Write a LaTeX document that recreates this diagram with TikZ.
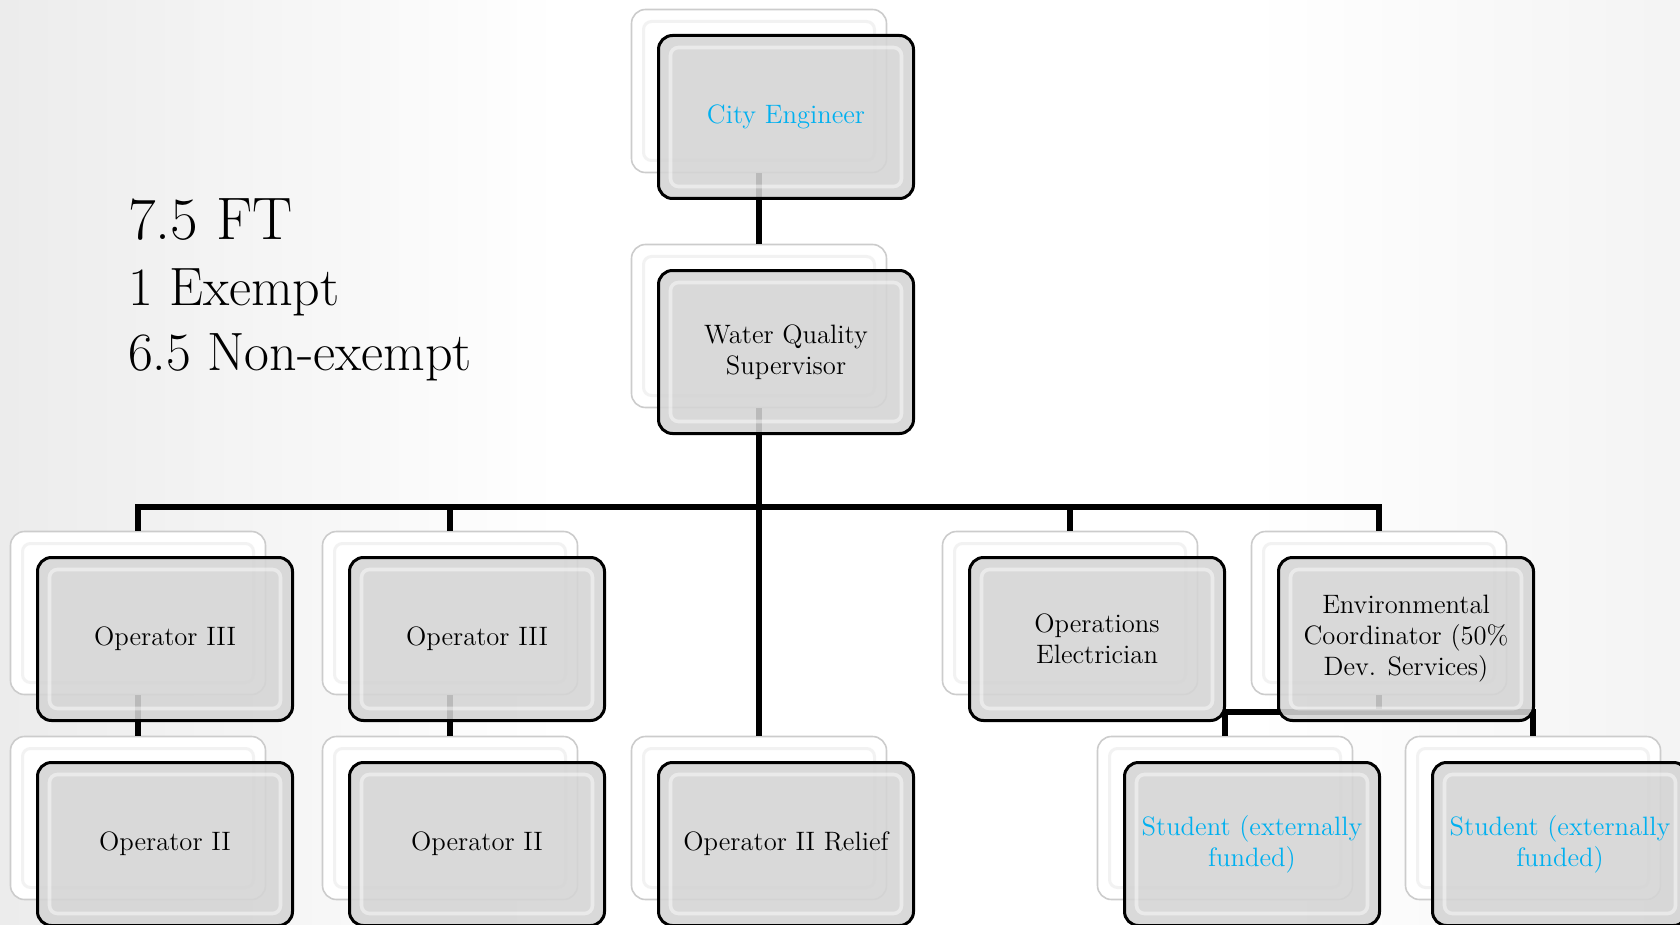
\documentclass[tikz,border=0pt]{standalone}
\usetikzlibrary{positioning}
\definecolor{titleblue}{RGB}{0,176,240}
\definecolor{boxgray}{RGB}{212,212,212}
\newcommand\boxfont{\fontsize{13.3pt}{15.5pt}\selectfont}
\tikzstyle{card}=[rounded corners=7pt, minimum width=127.5pt, minimum height=81.5pt, inner sep=0pt, align=center]
\tikzstyle{backbox}=[card, draw=gray!40, line width=.8pt, fill=white,
  path picture={\draw[gray!10, line width=1.5pt, rounded corners=4pt]
    ([shift={(6pt,-6pt)}]path picture bounding box.north west) rectangle
    ([shift={(-6pt,6pt)}]path picture bounding box.south east);}]
\tikzstyle{frontbox}=[card, draw=black, line width=1.5pt, fill=boxgray, fill opacity=.88, text opacity=1,
  path picture={\draw[white, line width=1.8pt, opacity=.45, rounded corners=4pt]
    ([shift={(6pt,-6pt)}]path picture bounding box.north west) rectangle
    ([shift={(-6pt,6pt)}]path picture bounding box.south east);}]
\tikzstyle{link}=[line width=2.9pt]

\begin{document}
\begin{tikzpicture}[x=0.5pt, y=-0.5pt, font=\boxfont]
  \fill[white] (0,0) rectangle (1680,925);
  \shade[left color=gray!15, right color=white] (0,0) rectangle (560,925);
  \shade[left color=white, right color=gray!9] (1250,0) rectangle (1680,925);
  \useasboundingbox (0,0) rectangle (1680,925);

  % head count
  \node[anchor=base west, font=\fontsize{30pt}{36pt}\selectfont] (fte) at (121,240) {7.5 FT};
  \node[anchor=base west, font=\fontsize{27pt}{32pt}\selectfont] (exempt) at (121,306) {1 Exempt};
  \node[anchor=base west, font=\fontsize{27pt}{32pt}\selectfont] (nonexempt) at (121,370) {6.5 Non-exempt};

  % shadow cards
  \node[backbox] (ceb)   at (759,91)   {};
  \node[backbox] (wqsb)  at (759,326)  {};
  \node[backbox] (op3ab) at (138,613)  {};
  \node[backbox] (op3bb) at (450,613)  {};
  \node[backbox] (elecb) at (1070,613) {};
  \node[backbox] (envb)  at (1379,613) {};
  \node[backbox] (op2ab) at (138,818)  {};
  \node[backbox] (op2bb) at (450,818)  {};
  \node[backbox] (relb)  at (759,818)  {};
  \node[backbox] (stu1b) at (1225,818) {};
  \node[backbox] (stu2b) at (1533,818) {};

  % connectors
  \coordinate (bus) at (759,507);
  \coordinate (sbus) at (1379,712);
  \draw[link] (ceb.south) -- (wqsb.north);
  \draw[link] (wqsb.south) -- (relb.north);
  \draw[link] (op3ab.north) |- (bus) -| (envb.north);
  \draw[link] (op3bb.north) -- (op3bb.north |- bus);
  \draw[link] (elecb.north) -- (elecb.north |- bus);
  \draw[link] (op3ab.south) -- (op2ab.north);
  \draw[link] (op3bb.south) -- (op2bb.north);
  \draw[link] (envb.south) -- (sbus);
  \draw[link] (stu1b.north) |- (sbus) -| (stu2b.north);

  % cards
  \node[frontbox, text=titleblue] (ce) at ([shift={(27,26)}]ceb) {City Engineer};
  \node[frontbox] (wqs) at ([shift={(27,26)}]wqsb) {Water Quality\\Supervisor};
  \node[frontbox] (op3a) at ([shift={(27,26)}]op3ab) {Operator III};
  \node[frontbox] (op3b) at ([shift={(27,26)}]op3bb) {Operator III};
  \node[frontbox] (elec) at ([shift={(27,26)}]elecb) {Operations\\Electrician};
  \node[frontbox] (env) at ([shift={(27,26)}]envb) {Environmental\\Coordinator (50\%\\Dev. Services)};
  \node[frontbox] (op2a) at ([shift={(27,26)}]op2ab) {Operator II};
  \node[frontbox] (op2b) at ([shift={(27,26)}]op2bb) {Operator II};
  \node[frontbox] (rel) at ([shift={(27,26)}]relb) {Operator II Relief};
  \node[frontbox, text=titleblue] (stu1) at ([shift={(27,26)}]stu1b) {Student (externally\\funded)};
  \node[frontbox, text=titleblue] (stu2) at ([shift={(27,26)}]stu2b) {Student (externally\\funded)};
\end{tikzpicture}
\end{document}
